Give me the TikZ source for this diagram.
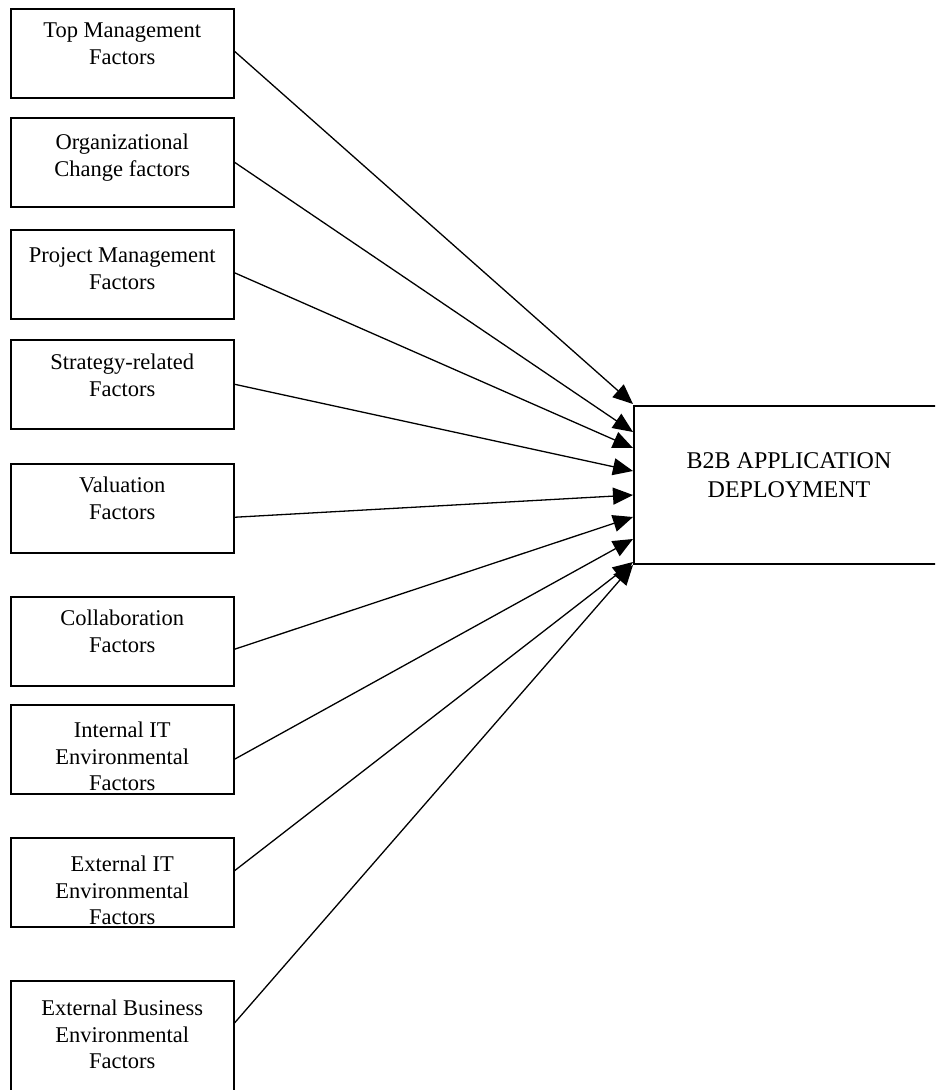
\documentclass[tikz,border=0pt]{standalone}
\usepackage{fontspec}
\setmainfont{Liberation Serif}
\usetikzlibrary{arrows.meta}
\begin{document}
\begin{tikzpicture}[x=1pt,y=-1pt,
  fbox/.style={draw, line width=1.5pt, minimum width=223pt, minimum height=89pt, inner sep=0pt, anchor=north west},
  ftext/.style={align=center, inner sep=0pt, anchor=north, font=\fontsize{22.5}{27}\selectfont},
  ftextc/.style={ftext, font=\fontsize{22.5}{26.5}\selectfont},
  arr/.style={line width=1.3pt, -{Triangle[length=20pt,width=17pt]}}]
\useasboundingbox (0,0) rectangle (935,1090);
\clip (0,0) rectangle (935,1090);
% left boxes
\node[fbox] (b1) at (10,8) {};
\node[fbox] (b2) at (10,117) {};
\node[fbox] (b3) at (10,229) {};
\node[fbox] (b4) at (10,339) {};
\node[fbox] (b5) at (10,463) {};
\node[fbox] (b6) at (10,596) {};
\node[fbox] (b7) at (10,704) {};
\node[fbox] (b8) at (10,837) {};
\node[fbox, minimum height=130pt] (b9) at (10,980) {};
% texts
\node[ftext] (t1) at ([yshift=-15pt]b1.north) {Top Management\\Factors};
\node[ftext] (t2) at ([yshift=-17pt]b2.north) {Organizational\\Change factors};
\node[ftext] (t3) at ([yshift=-18pt]b3.north) {Project Management\\Factors};
\node[ftext] (t4) at ([yshift=-15pt]b4.north) {Strategy-related\\Factors};
\node[ftext] (t5) at ([yshift=-14pt]b5.north) {Valuation\\Factors};
\node[ftext] (t6) at ([yshift=-14pt]b6.north) {Collaboration\\Factors};
\node[ftextc] (t7) at ([yshift=-18pt]b7.north) {Internal IT\\Environmental\\Factors};
\node[ftextc] (t8) at ([yshift=-19pt]b8.north) {External IT\\Environmental\\Factors};
\node[ftextc] (t9) at ([yshift=-20pt]b9.north) {External Business\\Environmental\\Factors};
% target box
\node[draw, line width=1.5pt, minimum width=330pt, minimum height=158pt, inner sep=0pt, anchor=north west] (d) at (633,405) {};
\node[anchor=north, inner sep=0pt, align=center, font=\fontsize{24}{29}\selectfont] (dt) at (789,452) {B2B APPLICATION\\DEPLOYMENT};
% connectors
\draw[arr] ([yshift=2pt]b1.east) -- ([yshift=1pt]d.north west);
\draw[arr] (b2.east) -- ([yshift=-27pt]d.north west);
\draw[arr] ([yshift=1.5pt]b3.east) -- ([yshift=-43pt]d.north west);
\draw[arr] (b4.east) -- ([yshift=-66pt]d.north west);
\draw[arr] ([yshift=-9pt]b5.east) -- ([yshift=-90pt]d.north west);
\draw[arr] ([yshift=-8pt]b6.east) -- ([yshift=-112pt]d.north west);
\draw[arr] ([yshift=-10pt]b7.east) -- ([yshift=-134pt]d.north west);
\draw[arr] ([yshift=11.5pt]b8.east) -- ([yshift=-157pt]d.north west);
\draw[arr] ([yshift=-43pt]b9.north east) -- ([yshift=-160pt]d.north west);
\end{tikzpicture}
\end{document}
